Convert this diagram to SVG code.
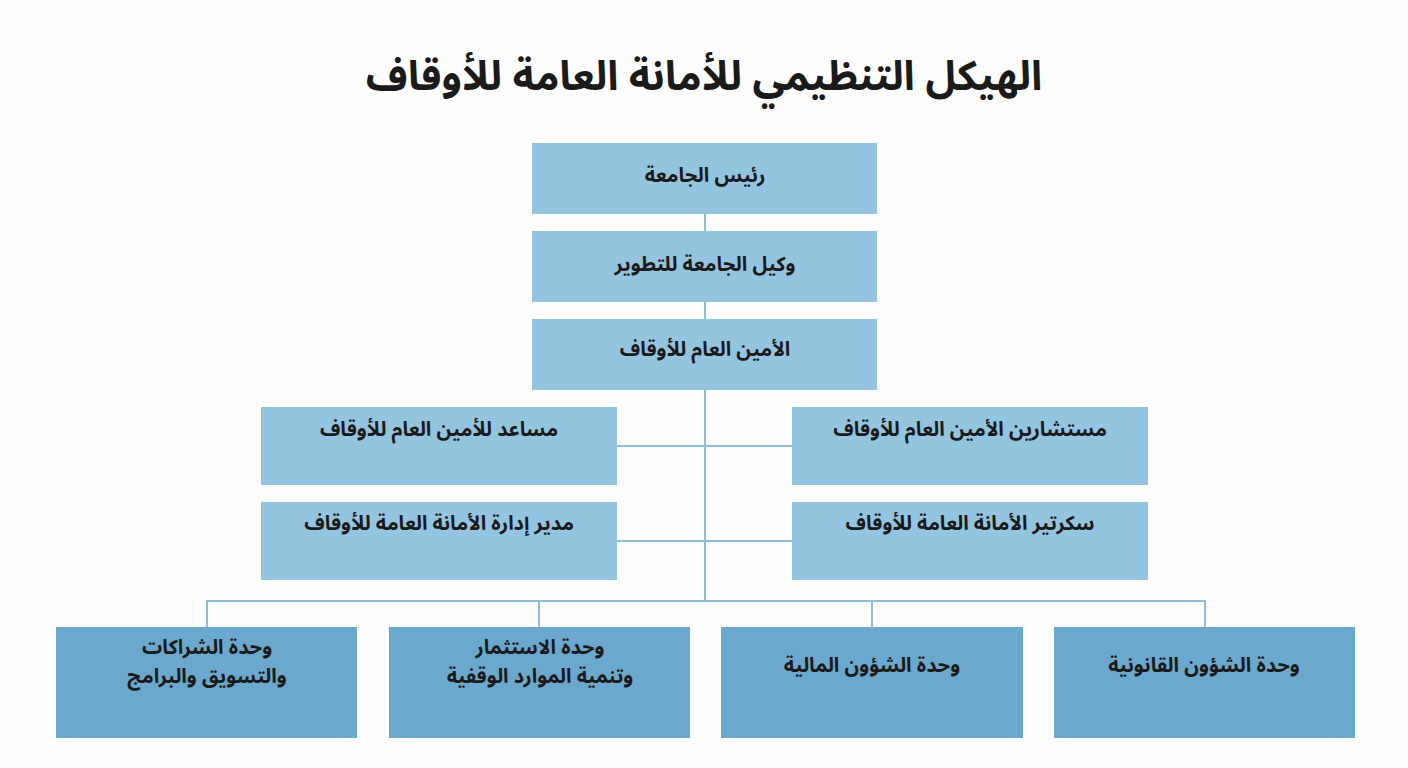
<svg xmlns="http://www.w3.org/2000/svg" width="1408" height="768" viewBox="0 0 1408 768">
<style>
.t{font-family:"Noto Sans Arabic","DejaVu Sans","Noto Sans",sans-serif;font-weight:bold;fill:#1a1a1a;text-anchor:middle;direction:rtl;font-size:20px}
.l{fill:#93c4e0}
.d{fill:#6aa9cd}
.c{stroke:#8fbfd6;stroke-width:2;fill:none}
</style>
<rect width="1408" height="768" fill="#fdfdfd"/>
<text class="t" x="704" y="90" style="font-size:41px">الهيكل التنظيمي للأمانة العامة للأوقاف</text>
<g id="connectors">
<path class="c" d="M705 214V601M617 446H792M617 541H792M207 627V601H1205V627M539 601V627M872 601V627"/>
</g>
<g id="n1"><rect class="l" x="532" y="143" width="345" height="71"/><text class="t" x="705" y="182">رئيس الجامعة</text></g>
<g id="n2"><rect class="l" x="532" y="231" width="345" height="71"/><text class="t" x="705" y="271">وكيل الجامعة للتطوير</text></g>
<g id="n3"><rect class="l" x="532" y="319" width="345" height="71"/><text class="t" x="705" y="356">الأمين العام للأوقاف</text></g>
<g id="n4"><rect class="l" x="261" y="407" width="356" height="78"/><text class="t" x="439" y="436">مساعد للأمين العام للأوقاف</text></g>
<g id="n5"><rect class="l" x="792" y="407" width="356" height="78"/><text class="t" x="970" y="436">مستشارين الأمين العام للأوقاف</text></g>
<g id="n6"><rect class="l" x="261" y="502" width="356" height="78"/><text class="t" x="439" y="530">مدير إدارة الأمانة العامة للأوقاف</text></g>
<g id="n7"><rect class="l" x="792" y="502" width="356" height="78"/><text class="t" x="970" y="530">سكرتير الأمانة العامة للأوقاف</text></g>
<g id="n8"><rect class="d" x="56" y="627" width="301" height="111"/><text class="t" x="207" y="654">وحدة الشراكات</text><text class="t" x="207" y="683">والتسويق والبرامج</text></g>
<g id="n9"><rect class="d" x="389" y="627" width="301" height="111"/><text class="t" x="540" y="654">وحدة الاستثمار</text><text class="t" x="540" y="683">وتنمية الموارد الوقفية</text></g>
<g id="n10"><rect class="d" x="721" y="627" width="302" height="111"/><text class="t" x="872" y="672">وحدة الشؤون المالية</text></g>
<g id="n11"><rect class="d" x="1054" y="627" width="301" height="111"/><text class="t" x="1204" y="672">وحدة الشؤون القانونية</text></g>
</svg>
